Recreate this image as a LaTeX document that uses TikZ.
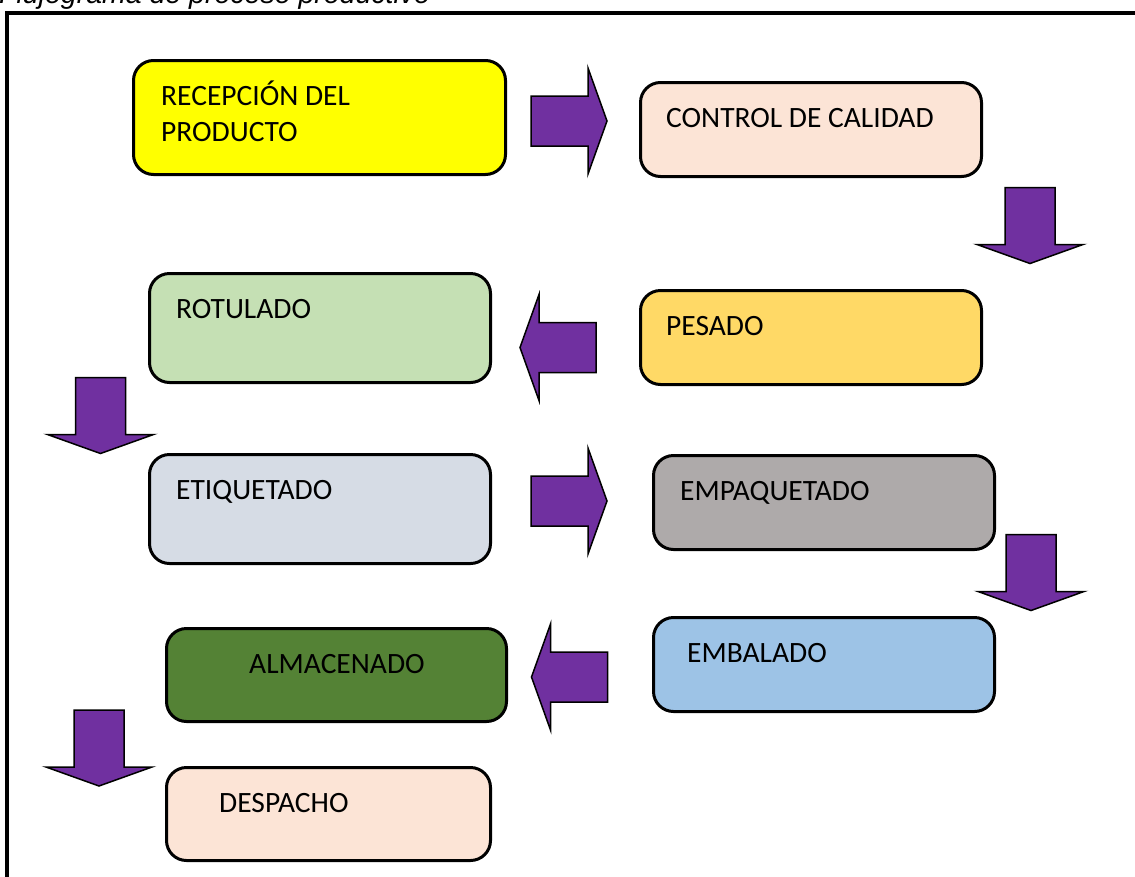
\documentclass[tikz,border=0pt]{standalone}
\usepackage{fontspec}
\setmainfont{Carlito}
\newfontfamily\arialfont{Liberation Sans}
\usepackage{tikz}
\usetikzlibrary{positioning}
\definecolor{amarillo}{HTML}{FFFF00}
\definecolor{durazno}{HTML}{FCE4D6}
\definecolor{dorado}{HTML}{FFD966}
\definecolor{verdeclaro}{HTML}{C5E0B4}
\definecolor{grisazul}{HTML}{D6DCE5}
\definecolor{gris}{HTML}{AEAAAA}
\definecolor{celeste}{HTML}{9DC3E6}
\definecolor{verdeoscuro}{HTML}{548235}
\definecolor{morado}{HTML}{7030A0}

\begin{document}
\begin{tikzpicture}[x=1pt, y=-1pt,
  caja/.style={rectangle, rounded corners=20pt, draw=black, line width=3pt, anchor=north west, inner sep=0pt},
  texto/.style={anchor=base west, yshift=-46.5pt, align=left, inner sep=0pt, font=\fontsize{29.5}{36}\selectfont},
  flechabase/.style={draw=black, line width=1.5pt, fill=morado, line join=miter},
  flecha/.pic={\draw[flechabase] (-38,-25) -- (19,-25) -- (19,-53) -- (38,0) -- (19,53) -- (19,25) -- (-38,25) -- cycle;}]
  \useasboundingbox (0,0) rectangle (1135,876);
  \node[anchor=base west, inner sep=0pt, font=\arialfont\itshape\fontsize{28.5}{34}\selectfont] (titulo) at (-1,3) {Flujograma de proceso productivo};
  \draw[line width=4pt] (7,890) -- (7,13) -- (1150,13);
  % pasos del proceso
  \node[caja, fill=amarillo, minimum width=372pt, minimum height=114pt,
    label={[texto, xshift=29pt, yshift=-36pt]north west:RECEPCIÓN DEL\\PRODUCTO}] (recepcion) at (132,59) {};
  \node[caja, fill=durazno, minimum width=341pt, minimum height=94pt,
    label={[texto, xshift=27pt]north west:CONTROL DE CALIDAD}] (control) at (639,81) {};
  \node[caja, fill=dorado, minimum width=341pt, minimum height=94pt,
    label={[texto, xshift=27pt]north west:PESADO}] (pesado) at (639,289) {};
  \node[caja, fill=verdeclaro, minimum width=341pt, minimum height=109pt,
    label={[texto, xshift=28pt]north west:ROTULADO}] (rotulado) at (148,272) {};
  \node[caja, fill=grisazul, minimum width=341pt, minimum height=109pt,
    label={[texto, xshift=28pt]north west:ETIQUETADO}] (etiquetado) at (148,453) {};
  \node[caja, fill=gris, minimum width=341pt, minimum height=94pt,
    label={[texto, xshift=28pt]north west:EMPAQUETADO}] (empaquetado) at (652,454) {};
  \node[caja, fill=celeste, minimum width=341pt, minimum height=94pt,
    label={[texto, xshift=35pt]north west:EMBALADO}] (embalado) at (652,616) {};
  \node[caja, fill=verdeoscuro, minimum width=340pt, minimum height=93pt,
    label={[texto, xshift=84pt]north west:ALMACENADO}] (almacenado) at (165,627) {};
  \node[caja, fill=durazno, minimum width=324pt, minimum height=93pt,
    label={[texto, xshift=54pt]north west:DESPACHO}] (despacho) at (165,766) {};
  % flechas
  \pic at (569,121) {flecha};
  \pic[rotate=-90] at (1030,225.5) {flecha};
  \pic[rotate=180] at (558,347.5) {flecha};
  \pic[rotate=-90] at (100.5,415.5) {flecha};
  \pic at (569,501) {flecha};
  \pic[rotate=-90] at (1031,572.5) {flecha};
  \pic[rotate=180] at (569.5,677) {flecha};
  \pic[rotate=-90] at (99,748) {flecha};
\end{tikzpicture}
\end{document}
